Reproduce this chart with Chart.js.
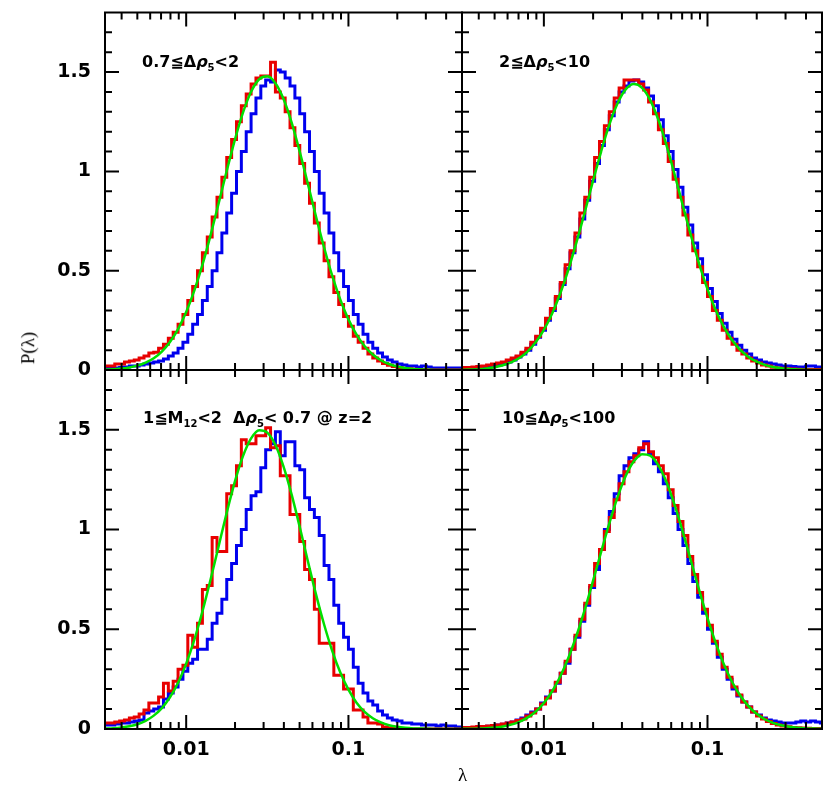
<!DOCTYPE html>
<html>
<head>
<meta charset="utf-8">
<script src="https://cdn.jsdelivr.net/npm/chart.js@4.4.1/dist/chart.umd.min.js"></script>
<style>
  body { margin: 0; background: #fff; }
  #fig { position: relative; width: 830px; height: 793px; overflow: hidden; background: #fff; }
  #fig canvas { position: absolute; }
  .lab { position: absolute; font: bold 16px "DejaVu Sans", sans-serif; line-height: 16px; white-space: pre; color: #000; }
  .lab sub { font-size: 10px; vertical-align: -4px; line-height: 0; }
  .ax { position: absolute; font: 19px "Liberation Serif", serif; color: #000; white-space: nowrap; }
</style>
</head>
<body>
<div id="fig">
  <canvas id="p1" width="470" height="382" style="left:0;top:0"></canvas>
  <canvas id="p2" width="376" height="382" style="left:454px;top:0"></canvas>
  <canvas id="p3" width="470" height="431" style="left:0;top:362px"></canvas>
  <canvas id="p4" width="376" height="431" style="left:454px;top:362px"></canvas>

  <div class="lab" style="left:142px;top:54px">0.7≦Δ<i>ρ</i><sub>5</sub>&lt;2</div>
  <div class="lab" style="left:499px;top:54px">2≦Δ<i>ρ</i><sub>5</sub>&lt;10</div>
  <div class="lab" style="left:143px;top:410px">1≦M<sub>12</sub>&lt;2  Δ<i>ρ</i><sub>5</sub>&lt; 0.7 @ z=2</div>
  <div class="lab" style="left:502px;top:410px">10≦Δ<i>ρ</i><sub>5</sub>&lt;100</div>

  <div class="ax" style="left:12px;top:337px;transform:rotate(-90deg);transform-origin:center">P(λ)</div>
  <div class="ax" style="left:458px;top:764px">λ</div>
</div>

<script>
// histogram bins in log10(lambda)
const binStart = -2.5, binWidth = 0.03;
// fitted curve sampled in log10(lambda)
const fitStart = -2.5, fitStep = 0.05;

const xMin = 0.00316, xMax = 0.501;
const yMax = 1.8;
const xTickLabels = [0.01, 0.1];
const yTickLabels = [0, 0.5, 1, 1.5];
const xMinorTicks = [0.004, 0.005, 0.006, 0.007, 0.008, 0.009,
                     0.02, 0.03, 0.04, 0.05, 0.06, 0.07, 0.08, 0.09,
                     0.2, 0.3, 0.4];
const yMinorTicks = [0.1, 0.2, 0.3, 0.4, 0.6, 0.7, 0.8, 0.9, 1.1, 1.2, 1.3, 1.4, 1.6, 1.7];

// panel 1: 0.7 <= drho < 2
const p1Red = [
  0.02,0.02,0.03,0.03,0.04,0.045,0.05,0.06,0.07,0.085,
  0.09,0.11,0.13,0.16,0.19,0.23,0.28,0.35,0.42,0.50,
  0.59,0.67,0.77,0.87,0.97,1.07,1.16,1.25,1.33,1.39,
  1.44,1.47,1.48,1.48,1.55,1.40,1.37,1.30,1.22,1.13,
  1.04,0.94,0.84,0.74,0.64,0.55,0.47,0.39,0.33,0.27,
  0.22,0.17,0.14,0.11,0.08,0.06,0.045,0.033,0.024,0.017,
  0.012,0.008,0.006,0.004,0.003,0.002,0,0,0,0,
  0,0,0,0];
const p1Blue = [
  0.01,0.01,0.01,0.012,0.015,0.02,0.02,0.025,0.03,0.035,
  0.04,0.045,0.055,0.07,0.085,0.11,0.14,0.18,0.23,0.28,
  0.35,0.42,0.50,0.59,0.69,0.79,0.89,1.00,1.10,1.20,
  1.29,1.37,1.43,1.46,1.45,1.51,1.50,1.47,1.43,1.37,
  1.29,1.20,1.10,1.00,0.89,0.79,0.69,0.59,0.50,0.42,
  0.35,0.28,0.23,0.18,0.14,0.11,0.085,0.065,0.05,0.04,
  0.03,0.025,0.02,0.02,0.015,0.02,0.015,0.01,0.01,0.01,
  0.01,0.01,0.01,0.01];
const p1Fit = [
  0.002,0.004,0.007,0.013,0.022,0.037,0.059,0.093,0.141,0.206,
  0.292,0.40,0.529,0.678,0.839,1.003,1.159,1.296,1.401,1.464,
  1.479,1.444,1.364,1.245,1.098,0.937,0.773,0.617,0.475,0.354,
  0.255,0.178,0.12,0.078,0.049,0.030,0.018,0.010,0.005,0.003,
  0.001,0,0,0,0];

// panel 2: 2 <= drho < 10
const p2Red = [
  0.012,0.012,0.015,0.018,0.02,0.025,0.03,0.035,0.04,0.05,
  0.06,0.07,0.09,0.11,0.14,0.17,0.21,0.26,0.31,0.37,
  0.44,0.53,0.60,0.69,0.79,0.87,0.97,1.07,1.15,1.23,
  1.30,1.37,1.42,1.46,1.46,1.46,1.44,1.41,1.35,1.29,
  1.21,1.14,1.05,0.96,0.87,0.78,0.68,0.60,0.52,0.44,
  0.37,0.30,0.25,0.20,0.16,0.13,0.10,0.08,0.06,0.045,
  0.035,0.025,0.02,0.014,0.01,0.008,0.006,0.005,0.004,0.003,
  0.003,0.002,0.002,0.002];
const p2Blue = [
  0.005,0.006,0.008,0.01,0.012,0.015,0.02,0.025,0.03,0.04,
  0.05,0.065,0.08,0.10,0.13,0.165,0.20,0.25,0.30,0.36,
  0.43,0.51,0.59,0.67,0.76,0.855,0.95,1.04,1.13,1.21,
  1.28,1.35,1.40,1.43,1.455,1.46,1.45,1.42,1.38,1.33,
  1.26,1.18,1.10,1.01,0.92,0.82,0.73,0.64,0.56,0.48,
  0.41,0.345,0.285,0.235,0.19,0.155,0.125,0.10,0.08,0.06,
  0.05,0.04,0.035,0.03,0.025,0.02,0.02,0.018,0.015,0.015,
  0.02,0.02,0.015,0.012];
const p2Fit = [
  0.001,0.002,0.004,0.008,0.014,0.024,0.038,0.060,0.093,0.14,
  0.202,0.283,0.385,0.506,0.645,0.795,0.951,1.10,1.235,1.342,
  1.413,1.44,1.421,1.359,1.259,1.13,0.982,0.826,0.674,0.532,
  0.407,0.302,0.217,0.151,0.101,0.066,0.042,0.026,0.015,0.009,
  0.005,0.003,0.001,0,0];

// panel 3: 1 <= M12 < 2, drho < 0.7, z=2
const p3Red = [
  0.03,0.03,0.035,0.04,0.045,0.055,0.06,0.075,0.095,0.13,
  0.13,0.16,0.23,0.19,0.24,0.30,0.32,0.47,0.41,0.53,
  0.70,0.72,0.96,0.89,0.89,1.18,1.22,1.32,1.45,1.43,
  1.43,1.47,1.47,1.51,1.41,1.42,1.27,1.27,1.075,1.075,
  0.94,0.80,0.75,0.60,0.43,0.43,0.43,0.27,0.27,0.20,
  0.20,0.095,0.095,0.06,0.03,0.03,0.025,0.01,0.005,0.005,
  0,0,0,0,0,0,0,0,0,0,
  0,0,0,0];
const p3Blue = [
  0.02,0.02,0.025,0.03,0.03,0.035,0.04,0.045,0.08,0.09,
  0.10,0.11,0.15,0.18,0.21,0.25,0.29,0.33,0.35,0.40,
  0.40,0.45,0.53,0.58,0.65,0.75,0.83,0.92,1.00,1.10,
  1.17,1.19,1.31,1.40,1.43,1.49,1.37,1.44,1.44,1.32,
  1.30,1.16,1.10,1.06,0.97,0.82,0.75,0.62,0.53,0.46,
  0.40,0.31,0.23,0.18,0.14,0.12,0.09,0.07,0.055,0.045,
  0.04,0.03,0.03,0.025,0.025,0.02,0.02,0.02,0.015,0.02,
  0.015,0.015,0.01,0.01];
const p3Fit = [
  0.002,0.004,0.008,0.014,0.024,0.041,0.067,0.105,0.159,0.232,
  0.328,0.447,0.589,0.748,0.917,1.085,1.24,1.368,1.457,1.498,
  1.486,1.424,1.316,1.175,1.012,0.841,0.675,0.524,0.392,0.283,
  0.197,0.132,0.086,0.054,0.033,0.019,0.011,0.006,0.003,0.002,
  0.001,0,0,0,0];

// panel 4: 10 <= drho < 100
const p4Red = [
  0.008,0.008,0.01,0.012,0.013,0.015,0.018,0.02,0.025,0.03,
  0.035,0.042,0.05,0.065,0.08,0.10,0.125,0.155,0.19,0.235,
  0.28,0.34,0.40,0.47,0.55,0.63,0.72,0.83,0.90,0.99,
  1.06,1.15,1.23,1.29,1.34,1.37,1.41,1.43,1.39,1.36,
  1.32,1.28,1.20,1.12,1.04,0.97,0.865,0.775,0.685,0.60,
  0.52,0.44,0.375,0.31,0.26,0.21,0.17,0.135,0.11,0.085,
  0.065,0.05,0.038,0.028,0.02,0.015,0.011,0.008,0.006,0.005,
  0.004,0.003,0.003,0.002];
const p4Blue = [
  0.005,0.006,0.008,0.01,0.012,0.014,0.016,0.02,0.024,0.03,
  0.035,0.045,0.055,0.07,0.085,0.10,0.13,0.16,0.19,0.23,
  0.28,0.33,0.40,0.46,0.54,0.62,0.71,0.80,0.90,1.00,
  1.09,1.18,1.27,1.32,1.36,1.38,1.40,1.44,1.38,1.33,
  1.29,1.23,1.16,1.08,1.00,0.92,0.83,0.74,0.66,0.58,
  0.50,0.43,0.36,0.30,0.25,0.20,0.165,0.135,0.11,0.085,
  0.07,0.055,0.045,0.04,0.035,0.03,0.03,0.03,0.035,0.04,
  0.035,0.04,0.035,0.03];
const p4Fit = [
  0.001,0.001,0.002,0.004,0.007,0.013,0.022,0.036,0.057,0.087,
  0.130,0.188,0.263,0.357,0.470,0.599,0.741,0.888,1.031,1.161,
  1.268,1.342,1.378,1.371,1.322,1.237,1.121,0.986,0.84,0.694,
  0.556,0.432,0.325,0.237,0.168,0.115,0.076,0.049,0.031,0.019,
  0.011,0.006,0.003,0.002,0.001];

// histogram: one point per left bin edge, plus the closing right edge
function histPoints(vals) {
  const pts = vals.map((v, i) => ({ x: Math.pow(10, binStart + i * binWidth), y: v }));
  pts.push({ x: Math.pow(10, binStart + vals.length * binWidth), y: vals[vals.length - 1] });
  return pts;
}
function fitPoints(vals) {
  return vals.map((v, i) => ({ x: Math.pow(10, fitStart + i * fitStep), y: v }));
}

// frame and inward ticks on all four sides
const framePlugin = {
  id: 'frame',
  afterDatasetsDraw(chart) {
    const { ctx, chartArea: a } = chart;
    const xs = chart.scales.x, ys = chart.scales.y;
    ctx.save();
    ctx.strokeStyle = '#000';
    ctx.lineWidth = 2;
    ctx.beginPath();
    const xt = (v, len) => {
      const p = xs.getPixelForValue(v);
      ctx.moveTo(p, a.bottom); ctx.lineTo(p, a.bottom - len);
      ctx.moveTo(p, a.top); ctx.lineTo(p, a.top + len);
    };
    const yt = (v, len) => {
      const p = ys.getPixelForValue(v);
      ctx.moveTo(a.left, p); ctx.lineTo(a.left + len, p);
      ctx.moveTo(a.right, p); ctx.lineTo(a.right - len, p);
    };
    xTickLabels.forEach(v => xt(v, 14));
    xMinorTicks.forEach(v => xt(v, 7));
    yTickLabels.forEach(v => yt(v, 14));
    yMinorTicks.forEach(v => yt(v, 7));
    ctx.stroke();
    ctx.strokeRect(a.left, a.top, a.right - a.left, a.bottom - a.top);
    ctx.restore();
  }
};

const tickFont = { family: 'DejaVu Sans', size: 19, weight: 'bold' };

function makePanel(id, red, blue, fit, showX, showY, padding) {
  new Chart(document.getElementById(id), {
    type: 'line',
    data: {
      datasets: [
        { data: fitPoints(fit), borderColor: '#00e000', borderWidth: 2.5,
          pointRadius: 0, cubicInterpolationMode: 'monotone' },
        { data: histPoints(red), borderColor: '#e80000', borderWidth: 3,
          pointRadius: 0, stepped: true, borderJoinStyle: 'miter' },
        { data: histPoints(blue), borderColor: '#0000ee', borderWidth: 3,
          pointRadius: 0, stepped: true, borderJoinStyle: 'miter' }
      ]
    },
    options: {
      responsive: false,
      animation: false,
      layout: { padding: padding },
      plugins: { legend: { display: false }, tooltip: { enabled: false } },
      scales: {
        x: {
          type: 'logarithmic', min: xMin, max: xMax, display: showX,
          grid: { display: false, drawTicks: false }, border: { display: false },
          afterBuildTicks: s => { s.ticks = xTickLabels.map(v => ({ value: v })); },
          afterFit: s => {
            if (showX) s.height = 40;
            s.paddingLeft = 0; s.paddingRight = 0;
          },
          ticks: { color: '#000', font: tickFont, padding: 10, maxRotation: 0, autoSkip: false,
                   callback: v => String(v) }
        },
        y: {
          type: 'linear', min: 0, max: yMax, display: showY,
          grid: { display: false, drawTicks: false }, border: { display: false },
          afterBuildTicks: s => { s.ticks = yTickLabels.map(v => ({ value: v })); },
          afterFit: s => {
            if (showY) s.width = 105;
            s.paddingTop = 0; s.paddingBottom = 0;
          },
          ticks: { color: '#000', font: tickFont, padding: 14, callback: v => String(v) }
        }
      }
    },
    plugins: [framePlugin]
  });
}

makePanel('p1', p1Red, p1Blue, p1Fit, false, true,  { left: 0, right: 8, top: 12.5, bottom: 12 });
makePanel('p2', p2Red, p2Blue, p2Fit, false, false, { left: 8, right: 8, top: 12.5, bottom: 12 });
makePanel('p3', p3Red, p3Blue, p3Fit, true,  true,  { left: 0, right: 8, top: 8, bottom: 24 });
makePanel('p4', p4Red, p4Blue, p4Fit, true,  false, { left: 8, right: 8, top: 8, bottom: 24 });
</script>
</body>
</html>
